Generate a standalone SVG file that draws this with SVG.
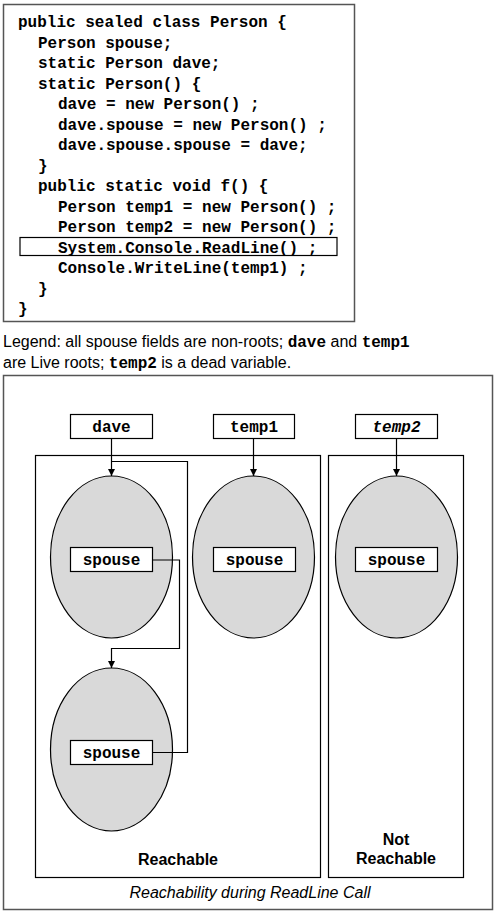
<svg xmlns="http://www.w3.org/2000/svg" width="500" height="914" viewBox="0 0 500 914">
<style>
.code{font-family:"Liberation Mono","Courier New",monospace;font-weight:bold;font-size:16px;fill:#000}
.sans{font-family:"Liberation Sans",Arial,sans-serif;fill:#000}
.box{fill:#fff;stroke:#000;stroke-width:1.2}
.frame{fill:#fff;stroke:#555;stroke-width:1.5}
.obj{fill:#d9d9d9;stroke:#000;stroke-width:1.2}
.conn{fill:none;stroke:#000;stroke-width:1.2}
.lbl{font-family:"Liberation Mono","Courier New",monospace;font-weight:bold;font-size:16px;text-anchor:middle}
</style>
<defs>
<marker id="arr" viewBox="0 0 10 10" refX="10" refY="5" markerWidth="7" markerHeight="9" markerUnits="userSpaceOnUse" orient="auto">
<path d="M0,0 L10,5 L0,10 z" fill="#000"/>
</marker>
</defs>
<g id="code">
<rect class="frame" x="3.5" y="4.5" width="351" height="317"/>
<rect class="box" x="20" y="237.5" width="317" height="18"/>
<text class="code" x="18" y="27">public sealed class Person {</text>
<text class="code" x="38" y="47.5">Person spouse;</text>
<text class="code" x="38" y="68">static Person dave;</text>
<text class="code" x="38" y="88.5">static Person() {</text>
<text class="code" x="58" y="109">dave = new Person() ;</text>
<text class="code" x="58" y="129.5">dave.spouse = new Person() ;</text>
<text class="code" x="58" y="150">dave.spouse.spouse = dave;</text>
<text class="code" x="38" y="170.5">}</text>
<text class="code" x="38" y="191">public static void f() {</text>
<text class="code" x="58" y="211.5">Person temp1 = new Person() ;</text>
<text class="code" x="58" y="232">Person temp2 = new Person() ;</text>
<text class="code" x="58" y="252.5">System.Console.ReadLine() ;</text>
<text class="code" x="58" y="273">Console.WriteLine(temp1) ;</text>
<text class="code" x="38" y="293.5">}</text>
<text class="code" x="18" y="314">}</text>
</g>
<g id="legend">
<text class="sans" x="3" y="347" font-size="16">Legend: all spouse fields are non-roots; <tspan class="code" font-size="15.5">dave</tspan> and <tspan class="code" font-size="15.5">temp1</tspan></text>
<text class="sans" x="3" y="368" font-size="16">are Live roots; <tspan class="code" font-size="15.5">temp2</tspan> is a dead variable.</text>
</g>
<g id="outer">
<rect class="frame" x="3.5" y="375.5" width="489" height="534"/>
<text class="sans" x="250" y="898" font-size="16" font-style="italic" text-anchor="middle">Reachability during ReadLine Call</text>
</g>
<g id="reachable">
<rect class="box" x="35.5" y="455.5" width="285" height="422"/>
<text class="sans" x="178" y="865" font-size="16" font-weight="bold" text-anchor="middle">Reachable</text>
</g>
<g id="notreachable">
<rect class="box" x="328.5" y="455.5" width="135" height="422"/>
<text class="sans" x="396" y="845" font-size="16" font-weight="bold" text-anchor="middle">Not</text>
<text class="sans" x="396" y="864" font-size="16" font-weight="bold" text-anchor="middle">Reachable</text>
</g>
<g id="root-dave">
<rect class="box" x="70.5" y="414.5" width="82" height="24"/>
<text class="lbl" x="111.5" y="431.5">dave</text>
</g>
<g id="root-temp1">
<rect class="box" x="213.5" y="414.5" width="81" height="24"/>
<text class="lbl" x="254" y="431.5">temp1</text>
</g>
<g id="root-temp2">
<rect class="box" x="355.5" y="414.5" width="82" height="24"/>
<text class="lbl" x="396.5" y="431.5" font-style="italic">temp2</text>
</g>
<g id="obj-dave">
<ellipse class="obj" cx="111.5" cy="557" rx="61" ry="81"/>
<rect class="box" x="70.5" y="547.5" width="82" height="24"/>
<text class="lbl" x="111.5" y="564.5">spouse</text>
</g>
<g id="obj-temp1">
<ellipse class="obj" cx="253.5" cy="557" rx="61" ry="81"/>
<rect class="box" x="213.5" y="547.5" width="82" height="24"/>
<text class="lbl" x="254.5" y="564.5">spouse</text>
</g>
<g id="obj-temp2">
<ellipse class="obj" cx="396.5" cy="557" rx="61" ry="81"/>
<rect class="box" x="355.5" y="547.5" width="82" height="24"/>
<text class="lbl" x="396.5" y="564.5">spouse</text>
</g>
<g id="obj-spouse">
<ellipse class="obj" cx="111.5" cy="749.5" rx="61" ry="81.5"/>
<rect class="box" x="70.5" y="740.5" width="82" height="24"/>
<text class="lbl" x="111.5" y="757.5">spouse</text>
</g>
<g id="connectors">
<line class="conn" x1="111.5" y1="438.5" x2="111.5" y2="476" marker-end="url(#arr)"/>
<line class="conn" x1="253.5" y1="438.5" x2="253.5" y2="476" marker-end="url(#arr)"/>
<line class="conn" x1="396.5" y1="438.5" x2="396.5" y2="476" marker-end="url(#arr)"/>
<polyline class="conn" points="152.5,560 179.5,560 179.5,648.5 111.5,648.5 111.5,668" marker-end="url(#arr)"/>
<polyline class="conn" points="152.5,752.5 187.5,752.5 187.5,461.5 111.5,461.5"/>
</g>
</svg>
